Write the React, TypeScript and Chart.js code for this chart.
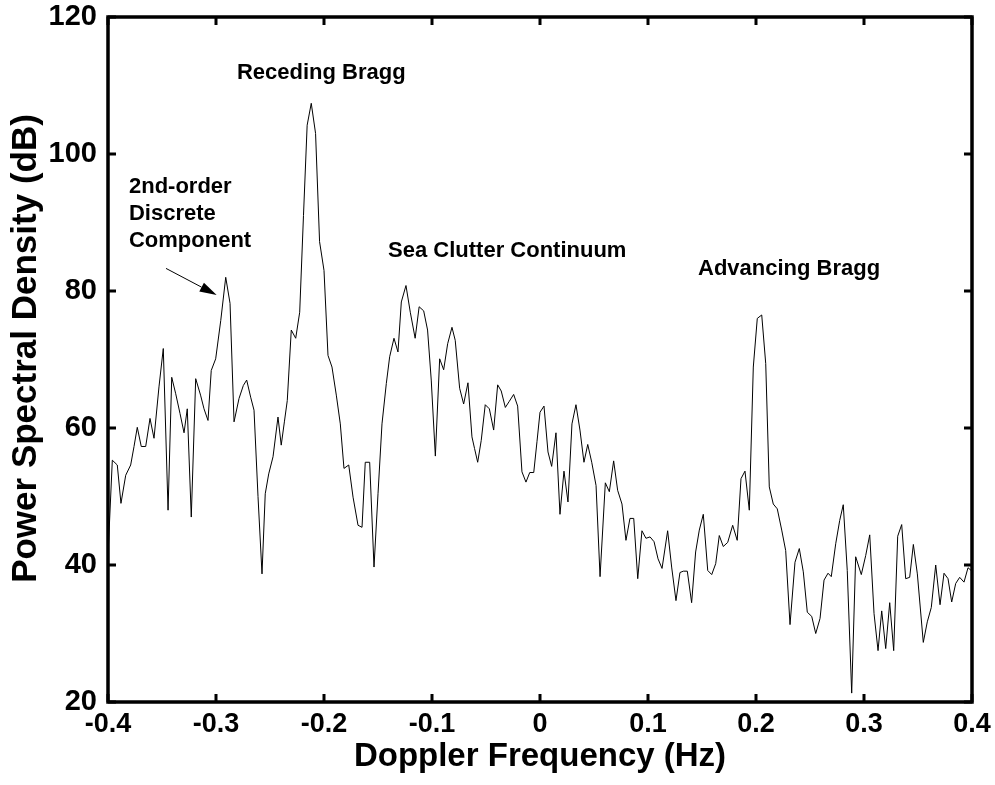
import React, { useEffect, useRef } from 'react';
import { Chart, registerables } from 'chart.js';

Chart.register(...registerables);

// Doppler frequency bins (Hz)
const FREQUENCY_HZ = [
  -0.4000, -0.3960, -0.3914, -0.3880, -0.3836, -0.3790, -0.3759, -0.3729, -0.3692, -0.3651,
  -0.3611, -0.3574, -0.3528, -0.3488, -0.3444, -0.3410, -0.3373, -0.3333, -0.3296, -0.3266,
  -0.3229, -0.3188, -0.3143, -0.3111, -0.3074, -0.3044, -0.3003, -0.2956, -0.2910, -0.2870,
  -0.2833, -0.2787, -0.2747, -0.2716, -0.2679, -0.2648, -0.2611, -0.2574, -0.2544, -0.2512,
  -0.2472, -0.2426, -0.2396, -0.2366, -0.2340, -0.2303, -0.2262, -0.2225, -0.2190, -0.2156,
  -0.2118, -0.2078, -0.2041, -0.2000, -0.1963, -0.1926, -0.1886, -0.1849, -0.1815, -0.1771,
  -0.1731, -0.1685, -0.1648, -0.1618, -0.1577, -0.1537, -0.1500, -0.1463, -0.1423, -0.1392,
  -0.1352, -0.1315, -0.1284, -0.1241, -0.1201, -0.1156, -0.1119, -0.1077, -0.1041, -0.1007,
  -0.0969, -0.0929, -0.0892, -0.0855, -0.0815, -0.0785, -0.0744, -0.0707, -0.0667, -0.0630,
  -0.0606, -0.0577, -0.0544, -0.0507, -0.0469, -0.0429, -0.0392, -0.0359, -0.0321, -0.0284,
  -0.0244, -0.0207, -0.0167, -0.0130, -0.0095, -0.0058, -0.0028, 0.0000, 0.0037, 0.0074,
  0.0108, 0.0148, 0.0185, 0.0222, 0.0259, 0.0296, 0.0333, 0.0370, 0.0407, 0.0442,
  0.0479, 0.0519, 0.0556, 0.0605, 0.0642, 0.0682, 0.0719, 0.0759, 0.0796, 0.0833,
  0.0868, 0.0905, 0.0944, 0.0981, 0.1019, 0.1056, 0.1093, 0.1130, 0.1182, 0.1219,
  0.1259, 0.1296, 0.1327, 0.1364, 0.1404, 0.1441, 0.1475, 0.1512, 0.1553, 0.1590,
  0.1627, 0.1660, 0.1697, 0.1738, 0.1784, 0.1826, 0.1861, 0.1898, 0.1938, 0.1975,
  0.2012, 0.2053, 0.2090, 0.2123, 0.2160, 0.2197, 0.2238, 0.2275, 0.2315, 0.2361,
  0.2401, 0.2438, 0.2475, 0.2516, 0.2553, 0.2593, 0.2630, 0.2667, 0.2697, 0.2738,
  0.2775, 0.2808, 0.2845, 0.2886, 0.2923, 0.2975, 0.3016, 0.3053, 0.3093, 0.3130,
  0.3164, 0.3201, 0.3238, 0.3275, 0.3312, 0.3349, 0.3386, 0.3423, 0.3457, 0.3494,
  0.3549, 0.3586, 0.3623, 0.3664, 0.3704, 0.3741, 0.3778, 0.3812, 0.3849, 0.3886,
  0.3926, 0.3963, 0.4000,
];

// Power spectral density (dB)
const PSD_DB = [
  41.4, 55.3, 54.6, 49.0, 53.1, 54.6, 57.3, 60.1, 57.3, 57.3,
  61.4, 58.5, 66.0, 71.6, 48.0, 67.4, 65.0, 62.1, 59.3, 62.8,
  47.0, 67.2, 64.8, 62.8, 61.1, 68.4, 70.1, 75.7, 82.0, 78.2,
  60.9, 64.3, 66.2, 67.0, 64.5, 62.6, 50.0, 38.7, 50.4, 53.3,
  55.8, 61.6, 57.5, 61.0, 64.0, 74.3, 73.1, 76.9, 91.0, 104.2,
  107.4, 103.0, 87.2, 83.0, 70.6, 68.9, 64.8, 60.6, 54.1, 54.6,
  49.9, 45.8, 45.5, 55.0, 55.0, 39.7, 50.4, 60.6, 66.5, 70.4,
  73.1, 71.1, 78.4, 80.8, 76.9, 73.1, 77.7, 77.1, 74.3, 67.0,
  55.9, 70.1, 68.5, 72.3, 74.7, 72.8, 65.8, 63.5, 66.6, 58.7,
  57.0, 55.0, 58.2, 63.4, 62.8, 59.7, 66.3, 65.4, 63.0, 63.9,
  64.9, 63.2, 53.6, 52.1, 53.5, 53.5, 58.0, 62.3, 63.2, 56.5,
  54.4, 59.3, 47.4, 53.7, 49.2, 60.6, 63.4, 59.7, 55.0, 57.6,
  55.0, 51.6, 38.3, 52.0, 50.7, 55.2, 50.9, 48.9, 43.6, 46.8,
  46.8, 38.0, 45.0, 43.9, 44.1, 43.4, 40.9, 39.5, 45.0, 39.7,
  34.8, 38.9, 39.1, 39.1, 34.5, 41.9, 45.1, 47.4, 39.2, 38.6,
  40.2, 44.3, 42.7, 43.3, 45.8, 43.6, 52.6, 53.7, 48.0, 68.9,
  76.0, 76.5, 69.4, 51.4, 48.9, 48.2, 45.1, 42.1, 31.3, 40.4,
  42.4, 39.0, 33.1, 32.5, 30.0, 32.2, 37.8, 38.8, 38.3, 43.1,
  46.5, 48.8, 39.2, 21.3, 41.2, 38.6, 41.4, 44.4, 32.9, 27.5,
  33.3, 27.8, 34.5, 27.5, 44.2, 45.9, 38.0, 38.2, 43.0, 38.7,
  28.7, 31.7, 33.8, 40.0, 34.2, 38.8, 38.0, 34.6, 37.3, 38.2,
  37.5, 39.6, 39.1,
];

const X_TICKS = [-0.4, -0.3, -0.2, -0.1, 0, 0.1, 0.2, 0.3, 0.4];
const Y_TICKS = [20, 40, 60, 80, 100, 120];

const X_TITLE = 'Doppler Frequency (Hz)';
const Y_TITLE = 'Power Spectral Density (dB)';

// Text annotations: lines of text, anchored (left, first baseline) in data coordinates
const ANNOTATION_TEXTS = [
  ['Receding Bragg'],
  ['2nd-order', 'Discrete', 'Component'],
  ['Sea Clutter Continuum'],
  ['Advancing Bragg'],
];
const ANNOTATION_FREQ = [-0.2806, -0.3806, -0.1407, 0.1463];
const ANNOTATION_DB = [110.9, 94.3, 85.0, 82.3];

// Arrow pointing at the 2nd-order discrete component (from -> to)
const ARROW_FREQ = [-0.3463, -0.2994];
const ARROW_DB = [83.3, 79.4];

const FONT_FAMILY = '"Liberation Sans", Arial, Helvetica, sans-serif';

const framePlugin = {
  id: 'matlabFrame',
  afterDatasetsDraw(chart: any) {
    const { ctx, chartArea, scales } = chart;
    const xs = scales.x;
    const ys = scales.y;
    const { left, right, top, bottom } = chartArea;
    ctx.save();

    // annotations
    ctx.fillStyle = '#000';
    ctx.font = `bold 22px ${FONT_FAMILY}`;
    ctx.textAlign = 'left';
    ctx.textBaseline = 'alphabetic';
    ANNOTATION_TEXTS.forEach((lines, i) => {
      const px = xs.getPixelForValue(ANNOTATION_FREQ[i]);
      const py = ys.getPixelForValue(ANNOTATION_DB[i]);
      lines.forEach((line, j) => ctx.fillText(line, px, py + j * 27));
    });

    // arrow
    const ax0 = xs.getPixelForValue(ARROW_FREQ[0]);
    const ay0 = ys.getPixelForValue(ARROW_DB[0]);
    const ax1 = xs.getPixelForValue(ARROW_FREQ[1]);
    const ay1 = ys.getPixelForValue(ARROW_DB[1]);
    const ang = Math.atan2(ay1 - ay0, ax1 - ax0);
    const headLen = 17;
    const headHalf = 5;
    const bx = ax1 - headLen * Math.cos(ang);
    const by = ay1 - headLen * Math.sin(ang);
    ctx.strokeStyle = '#000';
    ctx.lineWidth = 1;
    ctx.beginPath();
    ctx.moveTo(ax0, ay0);
    ctx.lineTo(bx, by);
    ctx.stroke();
    ctx.beginPath();
    ctx.moveTo(ax1, ay1);
    ctx.lineTo(bx + headHalf * Math.sin(ang), by - headHalf * Math.cos(ang));
    ctx.lineTo(bx - headHalf * Math.sin(ang), by + headHalf * Math.cos(ang));
    ctx.closePath();
    ctx.fill();

    // inward ticks
    ctx.lineWidth = 3;
    ctx.lineCap = 'butt';
    const tl = 8;
    X_TICKS.forEach((v) => {
      const px = Math.round(xs.getPixelForValue(v));
      ctx.beginPath();
      ctx.moveTo(px, bottom);
      ctx.lineTo(px, bottom - tl);
      ctx.moveTo(px, top);
      ctx.lineTo(px, top + tl);
      ctx.stroke();
    });
    Y_TICKS.forEach((v) => {
      const py = Math.round(ys.getPixelForValue(v));
      ctx.beginPath();
      ctx.moveTo(left, py);
      ctx.lineTo(left + tl, py);
      ctx.moveTo(right, py);
      ctx.lineTo(right - tl, py);
      ctx.stroke();
    });

    // frame
    ctx.lineWidth = 3.5;
    ctx.strokeRect(left, top, right - left, bottom - top);

    // y-axis title (rotated), centred where the reference places it
    ctx.font = `bold 35px ${FONT_FAMILY}`;
    ctx.textAlign = 'center';
    ctx.textBaseline = 'middle';
    ctx.translate(26, (top + bottom) / 2 - 11);
    ctx.rotate(-Math.PI / 2);
    ctx.fillText(Y_TITLE, 0, 0);
    ctx.restore();
  },
};

export default function App() {
  const canvasRef = useRef<HTMLCanvasElement | null>(null);

  useEffect(() => {
    const canvas = canvasRef.current;
    if (!canvas) return;
    const points = FREQUENCY_HZ.map((f, i) => ({ x: f, y: PSD_DB[i] }));
    const chart = new Chart(canvas, {
      type: 'line',
      data: {
        datasets: [
          {
            label: 'PSD',
            data: points,
            borderColor: '#000',
            borderWidth: 1,
            pointRadius: 0,
            tension: 0,
            fill: false,
          },
        ],
      },
      options: {
        animation: false,
        responsive: false,
        devicePixelRatio: 1,
        layout: { padding: { top: 17, right: 23, left: 0, bottom: 0 } },
        plugins: {
          legend: { display: false },
          tooltip: { enabled: false },
        },
        scales: {
          x: {
            type: 'linear',
            min: -0.4,
            max: 0.4,
            afterBuildTicks: (scale: any) => {
              scale.ticks = X_TICKS.map((v) => ({ value: v }));
            },
            afterFit: (scale: any) => {
              scale.height = 83;
              scale.paddingLeft = 0;
              scale.paddingRight = 0;
            },
            grid: { display: false, drawTicks: false },
            border: { display: false },
            ticks: {
              color: '#000',
              padding: 6,
              maxRotation: 0,
              autoSkip: false,
              font: { family: FONT_FAMILY, size: 27, weight: 'bold' },
              callback: (v: any) => String(Math.round(Number(v) * 10) / 10),
            },
            title: {
              display: true,
              text: X_TITLE,
              color: '#000',
              padding: { top: 0, bottom: 8 },
              font: { family: FONT_FAMILY, size: 33, weight: 'bold' },
            },
          },
          y: {
            type: 'linear',
            min: 20,
            max: 120,
            afterBuildTicks: (scale: any) => {
              scale.ticks = Y_TICKS.map((v) => ({ value: v }));
            },
            afterFit: (scale: any) => {
              scale.width = 108;
              scale.paddingTop = 0;
              scale.paddingBottom = 0;
            },
            grid: { display: false, drawTicks: false },
            border: { display: false },
            ticks: {
              color: '#000',
              padding: 11,
              autoSkip: false,
              font: { family: FONT_FAMILY, size: 29, weight: 'bold' },
              callback: (v: any) => String(v),
            },
            title: { display: false, text: Y_TITLE },
          },
        },
      },
      plugins: [framePlugin],
    });
    return () => chart.destroy();
  }, []);

  return (
    <div style={{ position: 'absolute', left: 0, top: 0, width: 995, height: 785, background: '#fff' }}>
      <canvas ref={canvasRef} width={995} height={785} style={{ display: 'block' }} />
    </div>
  );
}
